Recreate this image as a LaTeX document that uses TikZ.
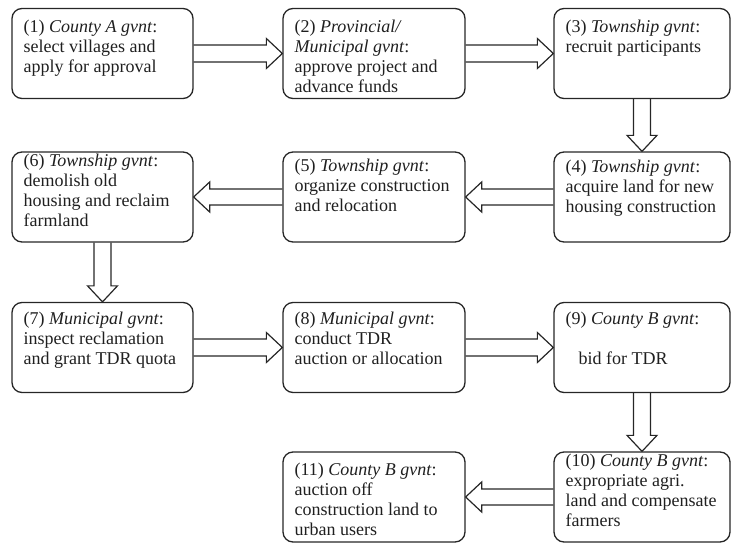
\documentclass[tikz,border=0pt]{standalone}
\usepackage{fontspec}
\setmainfont{Liberation Serif}
\usetikzlibrary{calc}
\newcommand{\rightblock}[2]{%
  \draw[blockarrow] ($(#1.east)+(0,-8.5)$) -- ($(#2.west)+(-16,-8.5)$) -- ($(#2.west)+(-16,-15)$) -- (#2.west) -- ($(#2.west)+(-16,15)$) -- ($(#2.west)+(-16,8.5)$) -- ($(#1.east)+(0,8.5)$);}
\newcommand{\leftblock}[2]{%
  \draw[blockarrow] ($(#1.west)+(0,-8)$) -- ($(#2.east)+(16,-8)$) -- ($(#2.east)+(16,-15)$) -- (#2.east) -- ($(#2.east)+(16,15)$) -- ($(#2.east)+(16,8)$) -- ($(#1.west)+(0,8)$);}
\newcommand{\downblock}[2]{%
  \draw[blockarrow] ($(#1.south)+(-8.5,0)$) -- ($(#2.north)+(-8.5,-16)$) -- ($(#2.north)+(-15,-16)$) -- (#2.north) -- ($(#2.north)+(15,-16)$) -- ($(#2.north)+(8.5,-16)$) -- ($(#1.south)+(8.5,0)$);}
\begin{document}
\begin{tikzpicture}[x=1pt,y=-1pt,
  stepbox/.style={draw=black!85, line width=1.3pt, rounded corners=10pt, minimum height=90pt, inner sep=0pt},
  boxtext/.style={anchor=north west, inner sep=0pt, align=left, font=\fontsize{18}{20}\selectfont, text=black!88},
  blockarrow/.style={draw=black!85, line width=1.2pt, line join=miter}]
\useasboundingbox (0,0) rectangle (731,543);
% boxes
\node[stepbox, minimum width=181pt] (b1) at (102.5,53.5) {};
\node[stepbox, minimum width=182pt] (b2) at (374,53.5) {};
\node[stepbox, minimum width=176pt] (b3) at (642,53.5) {};
\node[stepbox, minimum width=176pt] (b4) at (642,197) {};
\node[stepbox, minimum width=182pt] (b5) at (374,197) {};
\node[stepbox, minimum width=181pt] (b6) at (102.5,197) {};
\node[stepbox, minimum width=181pt] (b7) at (102.5,347.5) {};
\node[stepbox, minimum width=182pt] (b8) at (374,347.5) {};
\node[stepbox, minimum width=176pt] (b9) at (642,347.5) {};
\node[stepbox, minimum width=176pt] (b10) at (642,497) {};
\node[stepbox, minimum width=182pt] (b11) at (374,497) {};
% texts
\node[boxtext] (t1) at ($(b1.north west)+(12,11.7)$) {(1) \textit{County A gvnt}:\\select villages and\\apply for approval};
\node[boxtext] (t2) at ($(b2.north west)+(12,11.7)$) {(2) \textit{Provincial/}\\\textit{Municipal gvnt}:\\approve project and\\advance funds};
\node[boxtext] (t3) at ($(b3.north west)+(12,12.2)$) {(3) \textit{Township gvnt}:\\recruit participants};
\node[boxtext] (t4) at ($(b4.north west)+(12,8.7)$) {(4) \textit{Township gvnt}:\\acquire land for new\\housing construction};
\node[boxtext] (t5) at ($(b5.north west)+(12,7.7)$) {(5) \textit{Township gvnt}:\\organize construction\\and relocation};
\node[boxtext] (t6) at ($(b6.north west)+(12,2.2)$) {(6) \textit{Township gvnt}:\\demolish old\\housing and reclaim\\farmland};
\node[boxtext] (t7) at ($(b7.north west)+(12,9.7)$) {(7) \textit{Municipal gvnt}:\\inspect reclamation\\and grant TDR quota};
\node[boxtext] (t8) at ($(b8.north west)+(12,9.7)$) {(8) \textit{Municipal gvnt}:\\conduct TDR\\auction or allocation};
\node[boxtext] (t9) at ($(b9.north west)+(12,9.7)$) {(9) \textit{County B gvnt}:\\\mbox{}\\\hspace*{13pt}bid for TDR};
\node[boxtext] (t10) at ($(b10.north west)+(12,2.7)$) {(10) \textit{County B gvnt}:\\expropriate agri.\\land and compensate\\farmers};
\node[boxtext] (t11) at ($(b11.north west)+(12,11.2)$) {(11) \textit{County B gvnt}:\\auction off\\construction land to\\urban users};
% arrows
\rightblock{b1}{b2}
\rightblock{b2}{b3}
\downblock{b3}{b4}
\leftblock{b4}{b5}
\leftblock{b5}{b6}
\downblock{b6}{b7}
\rightblock{b7}{b8}
\rightblock{b8}{b9}
\downblock{b9}{b10}
\leftblock{b10}{b11}
\end{tikzpicture}
\end{document}
